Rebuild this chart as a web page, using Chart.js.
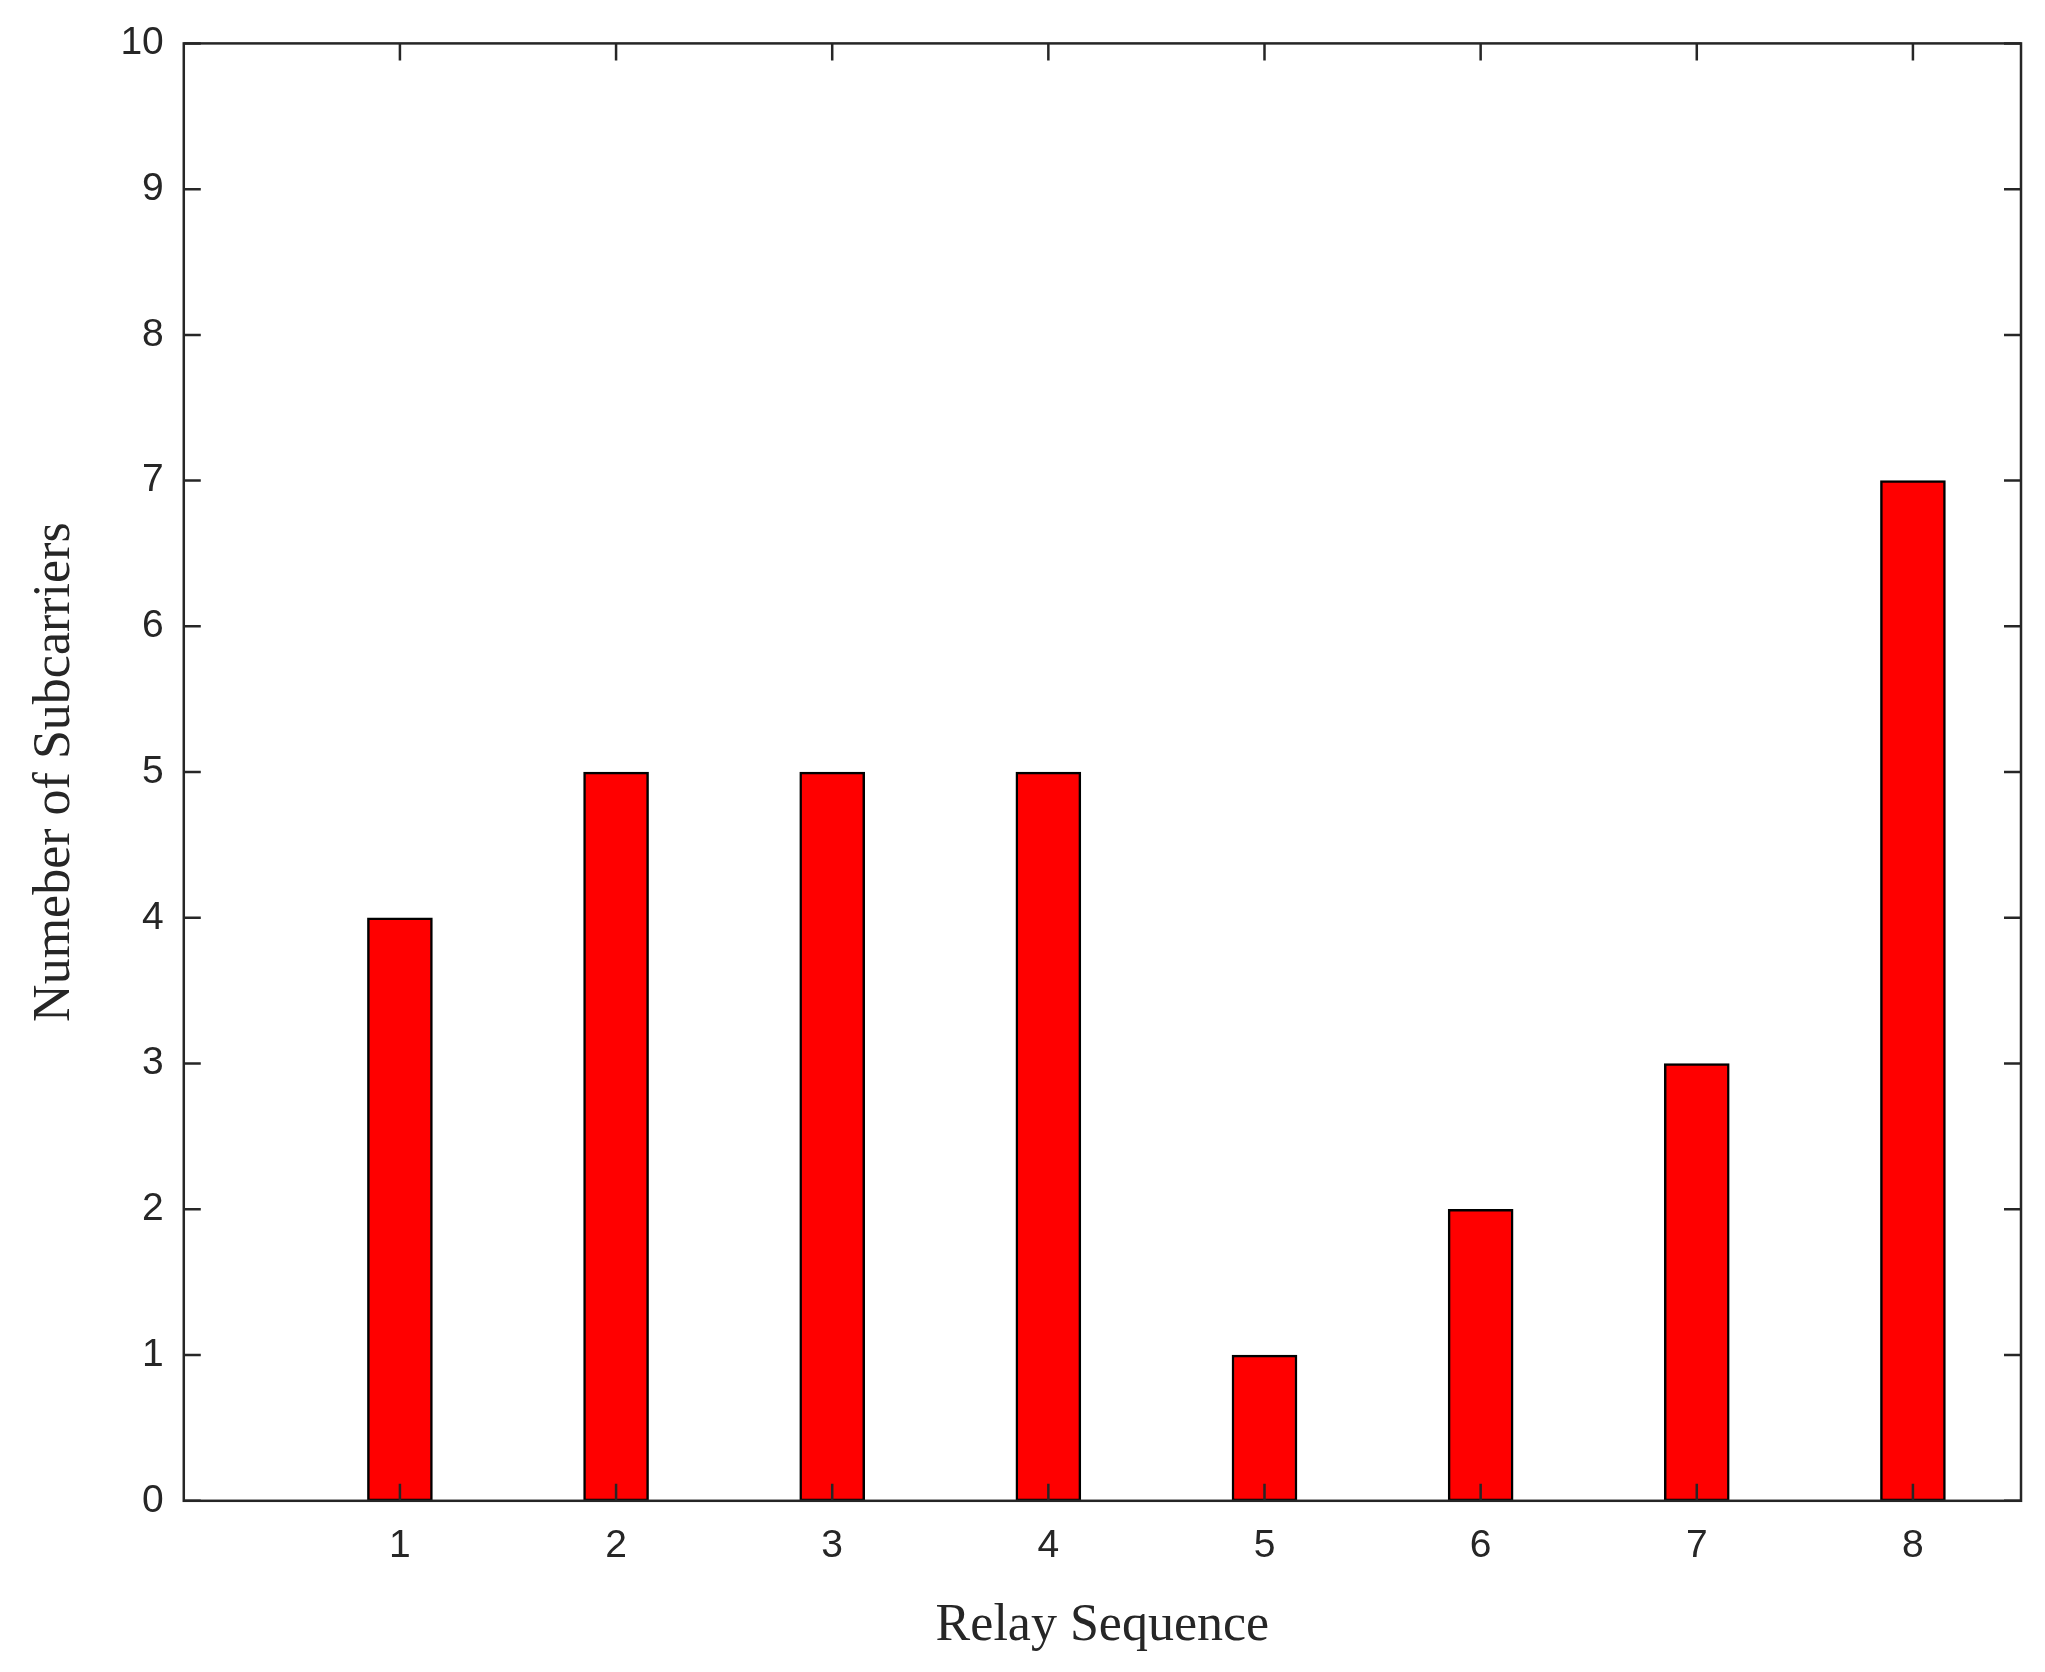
<!DOCTYPE html>
<html><head><meta charset="utf-8">
<script src="https://cdn.jsdelivr.net/npm/chart.js@4"></script>
<style>html,body{margin:0;padding:0;background:#fff}#w{width:2045px;height:1672px}</style>
</head><body><div id="w"><canvas id="c"></canvas></div>
<script>
const relays = [1,2,3,4,5,6,7,8];
const subcarriers = [4,5,5,5,1,2,3,7];
const xTicks = [1,2,3,4,5,6,7,8];
const yTicks = [0,1,2,3,4,5,6,7,8,9,10];

const tickPlugin = {
  id:'inTicks',
  afterDraw(chart){
    const {ctx, chartArea:a, scales:{x,y}} = chart;
    const L = 17;
    ctx.save(); ctx.strokeStyle='#262626'; ctx.lineWidth=2.5;
    ctx.beginPath();
    xTicks.forEach(v=>{const p=x.getPixelForValue(v);
      ctx.moveTo(p,a.bottom);ctx.lineTo(p,a.bottom-L);
      ctx.moveTo(p,a.top);ctx.lineTo(p,a.top+L);});
    yTicks.forEach(v=>{const p=y.getPixelForValue(v);
      ctx.moveTo(a.left,p);ctx.lineTo(a.left+L,p);
      ctx.moveTo(a.right,p);ctx.lineTo(a.right-L,p);});
    ctx.stroke();
    ctx.lineWidth=2.5;
    ctx.strokeRect(a.left,a.top,a.right-a.left,a.bottom-a.top);
    ctx.restore();
  }
};

new Chart(document.getElementById('c'),{
  type:'bar',
  data:{datasets:[{data:relays.map((r,i)=>({x:r,y:subcarriers[i]})),
    backgroundColor:'#ff0000',borderColor:'#000',borderWidth:2.5,barThickness:65,borderSkipped:false}]},
  options:{
    responsive:true,maintainAspectRatio:false,animation:false,
    layout:{padding:{top:18,right:24,left:20,bottom:10}},
    plugins:{legend:{display:false},tooltip:{enabled:false}},
    scales:{
      x:{type:'linear',min:0,max:8.5,offset:false,
        afterBuildTicks:s=>{s.ticks=xTicks.map(v=>({value:v}));},
        grid:{display:false,drawTicks:false},border:{display:false},
        ticks:{color:'#262626',font:{family:'Liberation Sans',size:39},padding:22},
        title:{display:true,text:'Relay Sequence',color:'#262626',font:{family:'Liberation Serif',size:52},padding:{top:4}}},
      y:{min:0,max:10,
        afterBuildTicks:s=>{s.ticks=yTicks.map(v=>({value:v}));},
        grid:{display:false,drawTicks:false},border:{display:false},
        ticks:{color:'#262626',font:{family:'Liberation Sans',size:39},padding:20},
        title:{display:true,text:'Numeber of Subcarriers',color:'#262626',font:{family:'Liberation Serif',size:52},padding:{bottom:14}}}
    }
  },
  plugins:[tickPlugin]
});
</script></body></html>
